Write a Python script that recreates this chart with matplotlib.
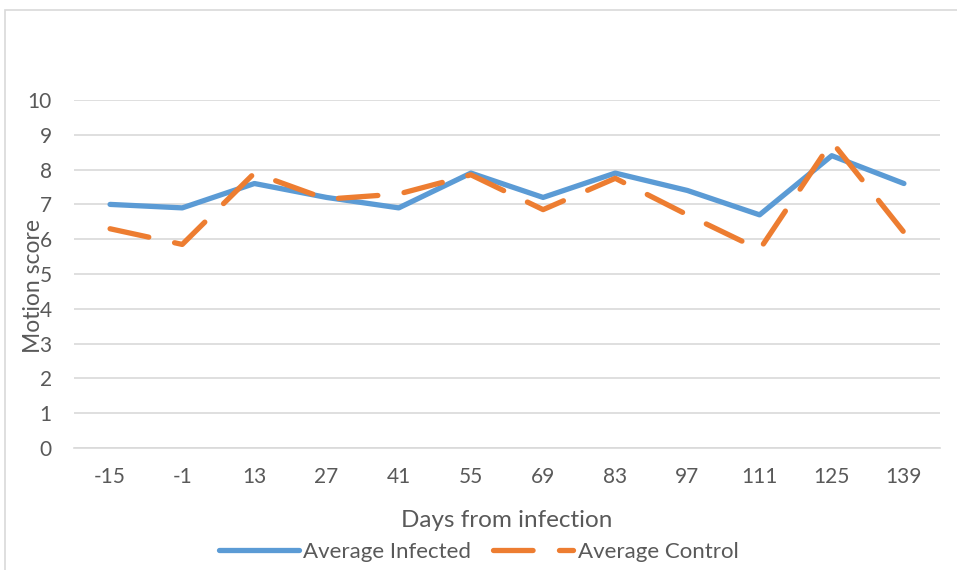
import matplotlib
matplotlib.use('Agg')
import matplotlib.pyplot as plt
from matplotlib.patches import Rectangle

days = ['-15', '-1', '13', '27', '41', '55', '69', '83', '97', '111', '125', '139']
avg_infected = [7.0, 6.9, 7.6, 7.2, 6.9, 7.9, 7.2, 7.9, 7.4, 6.7, 8.4, 7.6]
avg_control = [6.3, 5.85, 7.9, 7.15, 7.3, 7.85, 6.85, 7.75, 6.7, 5.7, 8.8, 6.2]

text_grey = '#595959'
plt.rcParams['font.family'] = ['Lato', 'DejaVu Sans']

fig = plt.figure(figsize=(9.57, 5.70), dpi=100)
# chart area frame (runs off the right and bottom edges)
fig.patches.append(Rectangle((5 / 957, -0.1), 1.2, 1 - 10 / 570 + 0.1,
                             transform=fig.transFigure, fill=False,
                             edgecolor='#d9d9d9', linewidth=1.2))

ax = fig.add_axes([74 / 957, 1 - 448 / 570, 866 / 957, 348 / 570])
x = list(range(len(days)))
ax.plot(x, avg_infected, color='#5b9bd5', linewidth=3.8,
        solid_capstyle='round', solid_joinstyle='round', label='Average Infected')
ax.plot(x, avg_control, color='#ed7d31', linewidth=3.8,
        linestyle=(0, (7.5, 5)), dash_capstyle='round', dash_joinstyle='round',
        label='Average Control')

ax.set_xlim(-0.5, len(days) - 0.5)
ax.set_ylim(0, 10)
ax.set_yticks(range(0, 11))
ax.set_xticks(x)
ax.set_xticklabels(days)
ax.tick_params(colors=text_grey, labelsize=15, length=0)
ax.tick_params(axis='x', pad=14)
ax.tick_params(axis='y', pad=16)
ax.grid(axis='y', color='#d9d9d9', linewidth=1.2)
ax.set_axisbelow(True)
for s in ['top', 'right', 'left']:
    ax.spines[s].set_visible(False)
ax.spines['bottom'].set_color('#d9d9d9')
ax.spines['bottom'].set_linewidth(1.2)

ax.set_xlabel('Days from infection', fontsize=17.5, color=text_grey, labelpad=16)
fig.text(33 / 957, 1 - 286 / 570, 'Motion score', rotation=90, fontsize=16.5,
         color=text_grey, ha='center', va='center')

fig.legend(loc='center', bbox_to_anchor=(0.5, 1 - 552 / 570), ncol=2,
           frameon=False, fontsize=16, labelcolor=text_grey,
           handlelength=3.6, columnspacing=1.0, handletextpad=0.2)

fig.savefig('out.png', dpi=100)
